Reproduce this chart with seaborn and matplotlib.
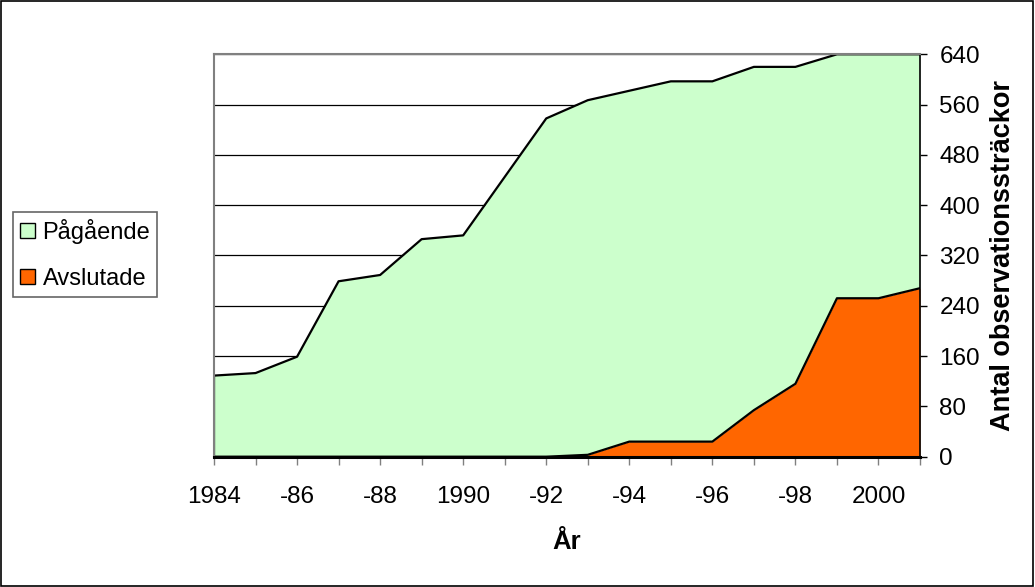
import matplotlib
matplotlib.use('Agg')
import matplotlib.pyplot as plt
import seaborn as sns
import pandas as pd
from matplotlib.patches import Patch, Rectangle

# Data
years = list(range(1984, 2002))
avslutade = [0, 0, 0, 0, 0, 0, 0, 0, 0, 3, 24, 24, 24, 74, 116, 252, 252, 268]
pagaende = [129, 133, 159, 279, 289, 346, 352, 445, 538, 564, 558, 573, 573, 546, 504, 388, 388, 372]
tick_labels = ['1984', '', '-86', '', '-88', '', '1990', '', '-92', '', '-94', '', '-96', '', '-98', '', '2000', '']
y_ticks = [0, 80, 160, 240, 320, 400, 480, 560, 640]
series_names = ['Pågående', 'Avslutade']
colors = {'Pågående': '#CCFFCC', 'Avslutade': '#FF6600'}

sns.set_theme(style='white')
plt.rcParams['font.family'] = ['Liberation Sans', 'DejaVu Sans']
plt.rcParams['text.color'] = 'black'
plt.rcParams['axes.labelcolor'] = 'black'
plt.rcParams['xtick.color'] = 'black'
plt.rcParams['ytick.color'] = 'black'

df = pd.DataFrame({'År': years, 'Avslutade': avslutade, 'Pågående': pagaende})
df['Total'] = df['Avslutade'] + df['Pågående']

fig = plt.figure(figsize=(10.35, 5.87), dpi=100)
ax = fig.add_axes([214 / 1035, 1 - 456.7 / 587, 706 / 1035, (456.7 - 54.3) / 587])

ax.fill_between(df['År'], 0, df['Avslutade'], color=colors['Avslutade'], lw=0, zorder=2)
ax.fill_between(df['År'], df['Avslutade'], df['Total'], color=colors['Pågående'], lw=0, zorder=2)
sns.lineplot(data=df, x='År', y='Total', color='black', lw=1.6, ax=ax, zorder=3)
sns.lineplot(data=df, x='År', y='Avslutade', color='black', lw=1.6, ax=ax, zorder=3)
ax.plot([years[0], years[0]], [0, df['Total'].iloc[0]], color='black', lw=1.6, zorder=3)

ax.set_xlim(years[0], years[-1])
ax.set_ylim(0, 640)

ax.yaxis.grid(True, color='black', lw=0.9)
ax.xaxis.grid(False)
ax.set_axisbelow(True)

ax.set_xticks(years)
ax.set_xticklabels(tick_labels, fontsize=17.5)
ax.set_yticks(y_ticks)
ax.yaxis.tick_right()
ax.yaxis.set_label_position('right')
ax.set_yticklabels([str(v) for v in y_ticks], fontsize=17.5)

ax.tick_params(axis='x', which='major', direction='out', length=6, width=1,
               color='#808080', labelcolor='black', pad=15, bottom=True)
ax.tick_params(axis='y', which='major', direction='out', length=5, width=1,
               color='black', labelcolor='black', pad=9, right=True, left=False)

for side in ['left', 'top']:
    ax.spines[side].set_color('#808080')
    ax.spines[side].set_linewidth(1.5)
ax.spines['right'].set_color('black')
ax.spines['right'].set_linewidth(1.2)
ax.spines['bottom'].set_color('black')
ax.spines['bottom'].set_linewidth(2.2)
for s in ax.spines.values():
    s.set_zorder(4)

ax.set_xlabel('År', fontsize=18.5, fontweight='bold', labelpad=16)
ax.set_ylabel('Antal observationssträckor', fontsize=19.5, fontweight='bold', labelpad=7)

handles = [Patch(facecolor=colors[n], edgecolor='black', lw=1) for n in series_names]
leg = fig.legend(handles, series_names, loc='upper left',
                 bbox_to_anchor=(13 / 1035, 1 - 212 / 587), borderaxespad=0,
                 fontsize=17, frameon=True, fancybox=False, edgecolor='#404040',
                 handlelength=0.65, handleheight=0.6, handletextpad=0.3,
                 labelspacing=1.0, borderpad=0.3)
leg.get_frame().set_linewidth(1.2)

fig.patches.append(Rectangle((0.001, 0.002), 0.997, 0.996, transform=fig.transFigure,
                             fill=False, edgecolor='black', lw=1.2))

fig.savefig('out.png', dpi=100)
